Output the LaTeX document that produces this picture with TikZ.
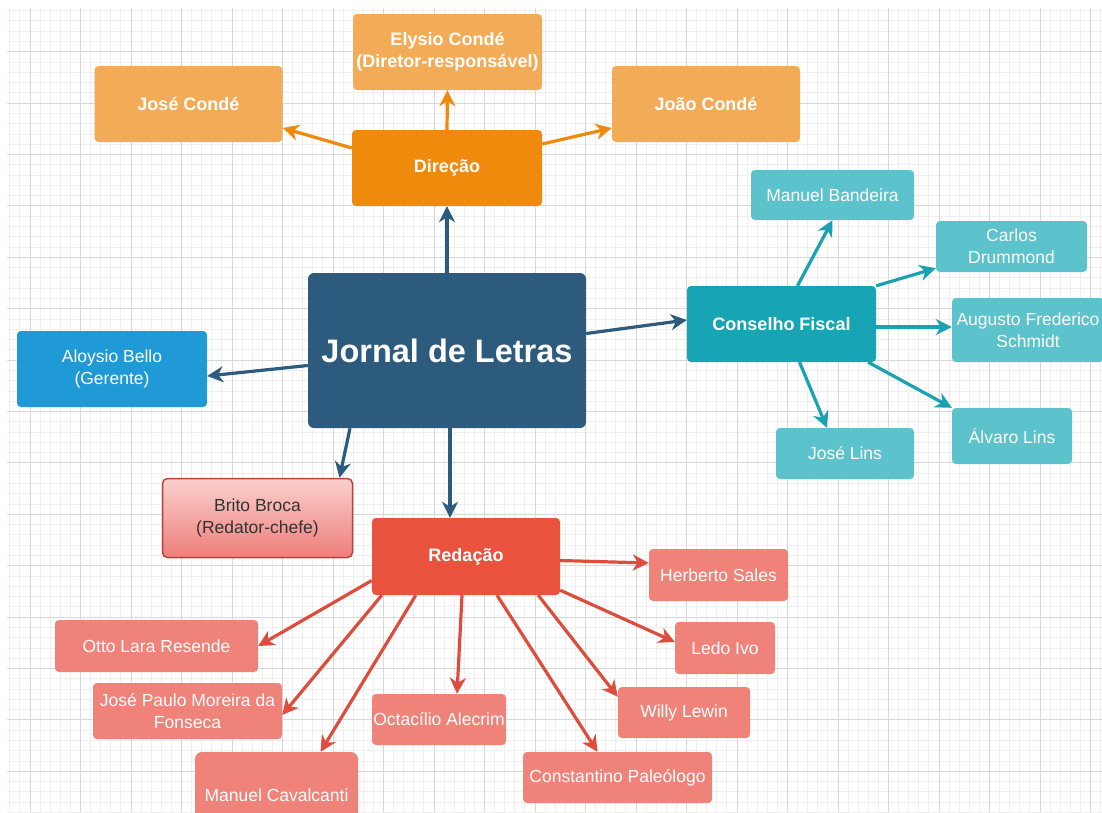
\documentclass[tikz,border=0pt]{standalone}
\usepackage{fontspec}
\setmainfont{Liberation Sans}
\usetikzlibrary{arrows.meta, calc}

\definecolor{navy}{HTML}{2D5B7E}
\definecolor{dirorange}{HTML}{EF8A0C}
\definecolor{lightorange}{HTML}{F2AB56}
\definecolor{gerblue}{HTML}{1F9AD6}
\definecolor{fiscteal}{HTML}{17A5B5}
\definecolor{lightteal}{HTML}{5CC3CD}
\definecolor{tealline}{HTML}{19A2B2}
\definecolor{redacred}{HTML}{E9533D}
\definecolor{redline}{HTML}{DE4D3B}
\definecolor{salmon}{HTML}{EF8379}
\definecolor{brocaedge}{HTML}{B8433E}
\definecolor{brocatop}{HTML}{FAD0CE}
\definecolor{brocabot}{HTML}{EE7E7A}
\definecolor{gridmin}{HTML}{EFEFEF}
\definecolor{gridmaj}{HTML}{D8D8D8}

\tikzstyle{base} = [rectangle, rounded corners=4pt, text centered, align=center, text=white, inner sep=1pt, font=\fontsize{17.5}{22}\selectfont]
\tikzstyle{head} = [base, font=\fontsize{18}{22}\selectfont\bfseries]
\tikzstyle{mainbox} = [base, fill=navy, rounded corners=6pt, minimum width=278pt, minimum height=155pt, font=\fontsize{32.5}{36}\selectfont\bfseries]
\tikzstyle{dir} = [head, fill=dirorange, minimum width=190pt, minimum height=76pt]
\tikzstyle{dirsub} = [head, fill=lightorange, minimum width=188pt, minimum height=76pt]
\tikzstyle{fisc} = [head, fill=fiscteal, minimum width=189pt, minimum height=76pt]
\tikzstyle{fiscsub} = [base, fill=lightteal, minimum height=51pt]
\tikzstyle{redac} = [head, fill=redacred, minimum width=188pt, minimum height=77pt]
\tikzstyle{redacsub} = [base, fill=salmon, minimum height=51pt]
\tikzstyle{gerente} = [base, fill=gerblue, minimum width=190pt, minimum height=76pt]
\tikzstyle{chefe} = [base, text=black!80, draw=brocaedge, line width=1.5pt, top color=brocatop, bottom color=brocabot, rounded corners=5pt, minimum width=190pt, minimum height=79pt]

\tikzstyle{arrow} = [line width=3.2pt, -{Stealth[length=16pt, width=16pt, inset=5pt]}]
\tikzstyle{navyarrow} = [arrow, draw=navy, fill=navy]
\tikzstyle{orarrow} = [arrow, draw=dirorange, fill=dirorange]
\tikzstyle{tearrow} = [arrow, draw=tealline, fill=tealline]
\tikzstyle{rdarrow} = [arrow, draw=redline, fill=redline]

\begin{document}
\begin{tikzpicture}[x=1pt, y=-1pt]
        \useasboundingbox (0,0) rectangle (1102,812);
        \clip (0,0) rectangle (1102,812);
        \fill [white] (0,0) rectangle (1102,812);

        % background grid
        \foreach \i in {0,...,108} \draw [gridmin, line width=0.9pt] ({9.8+10.1*\i},8) -- ({9.8+10.1*\i},812);
        \foreach \i in {0,...,78} \draw [gridmin, line width=0.9pt] (7,{10.6+10.28*\i}) -- (1102,{10.6+10.28*\i});
        \foreach \i in {0,...,21} \draw [gridmaj, line width=1pt] ({30+50.5*\i},8) -- ({30+50.5*\i},812);
        \foreach \i in {0,...,14} \draw [gridmaj, line width=1pt] (7,{51.7+51.4*\i}) -- (1102,{51.7+51.4*\i});

        \node (JL) [mainbox] at (447,350.5) {Jornal de Letras};

        \node (DIR) [dir] at (447,168) {Direção};
        \node (JC) [dirsub] at (188.5,104) {José Condé};
        \node (EC) [dirsub, minimum width=189pt] at (447.5,52) {Elysio Condé\\(Diretor-responsável)};
        \node (JOC) [dirsub] at (706,104) {João Condé};

        \node (AB) [gerente] at (112,369) {Aloysio Bello\\(Gerente)};
        \node (BB) [chefe] at (257.5,518) {Brito Broca\\(Redator-chefe)};

        \node (CF) [fisc] at (781.5,324) {Conselho Fiscal};
        \node (MB) [fiscsub, minimum width=163pt, minimum height=50pt] at (832.5,195) {Manuel Bandeira};
        \node (CD) [fiscsub, minimum width=151pt] at (1011.5,246.5) {Carlos\\Drummond};
        \node (AFS) [fiscsub, minimum width=152pt, minimum height=64pt] at (1028,330) {Augusto Frederico\\Schmidt};
        \node (AL) [fiscsub, minimum width=120pt, minimum height=56pt] at (1012,436) {Álvaro Lins};
        \node (JLI) [fiscsub, minimum width=138pt] at (845,453.5) {José Lins};

        \node (RED) [redac] at (466,556.5) {Redação};
        \node (HS) [redacsub, minimum width=139pt, minimum height=52pt] at (718.5,575) {Herberto Sales};
        \node (LI) [redacsub, minimum width=100pt, minimum height=52pt] at (725,648) {Ledo Ivo};
        \node (WL) [redacsub, minimum width=132pt] at (684,712.5) {Willy Lewin};
        \node (CP) [redacsub, minimum width=189pt] at (617.5,777.5) {Constantino Paleólogo};
        \node (OA) [redacsub, minimum width=134pt] at (439,719.5) {Octacílio Alecrim};
        \node (OLR) [redacsub, minimum width=203pt, minimum height=52pt] at (156.5,646) {Otto Lara Resende};
        \node (JPMF) [redacsub, minimum width=189pt, minimum height=56pt] at (187.5,711) {José Paulo Moreira da\\Fonseca};
        \node (MC) [redacsub, rounded corners=7pt, minimum width=163pt, minimum height=86pt] at (276.5,795) {Manuel Cavalcanti};

        \draw [navyarrow] (JL.north) -- (DIR.south);
        \draw [navyarrow] ([yshift=-15pt]JL.west) -- ([yshift=-7pt]AB.east);
        \draw [navyarrow] ([yshift=17pt]JL.east) -- ([yshift=4pt]CF.west);
        \draw [navyarrow] ([xshift=-97pt]JL.south) -- ([xshift=82pt]BB.north);
        \draw [navyarrow] ([xshift=3pt]JL.south) -- ([xshift=-16pt]RED.north);

        \draw [orarrow] ([yshift=20pt]DIR.west) -- ([yshift=-24pt]JC.east);
        \draw [orarrow] (DIR.north) -- (EC.south);
        \draw [orarrow] ([yshift=24pt]DIR.east) -- ([yshift=-24pt]JOC.west);

        \draw [tearrow] ([xshift=16pt]CF.north) -- (MB.south);
        \draw [tearrow] (CF.north east) -- ([yshift=4pt]CD.south west);
        \draw [tearrow] ([yshift=-3pt]CF.east) -- ([yshift=-3pt]CF.east -| AFS.west);
        \draw [tearrow] ([xshift=-8pt]CF.south east) -- (AL.north west);
        \draw [tearrow] ([xshift=18pt]CF.south) -- ([xshift=-18pt]JLI.north);

        \draw [rdarrow] ([yshift=-4pt]RED.east) -- ([yshift=12pt]HS.west);
        \draw [rdarrow] ([yshift=5pt]RED.south east) -- ([yshift=6pt]LI.west);
        \draw [rdarrow] ([xshift=-22pt]RED.south east) -- ([yshift=-10pt]WL.north west);
        \draw [rdarrow] ([xshift=31pt]RED.south) -- ([xshift=-20pt]CP.north);
        \draw [rdarrow] ([xshift=-4pt]RED.south) -- ([xshift=18pt]OA.north);
        \draw [rdarrow] ([yshift=-24pt]RED.west) -- (OLR.east);
        \draw [rdarrow] ([xshift=10pt]RED.south west) -- ([yshift=-4pt]JPMF.east);
        \draw [rdarrow] ([xshift=44pt]RED.south west) -- ([xshift=44pt]MC.north);

    \end{tikzpicture}
\end{document}
